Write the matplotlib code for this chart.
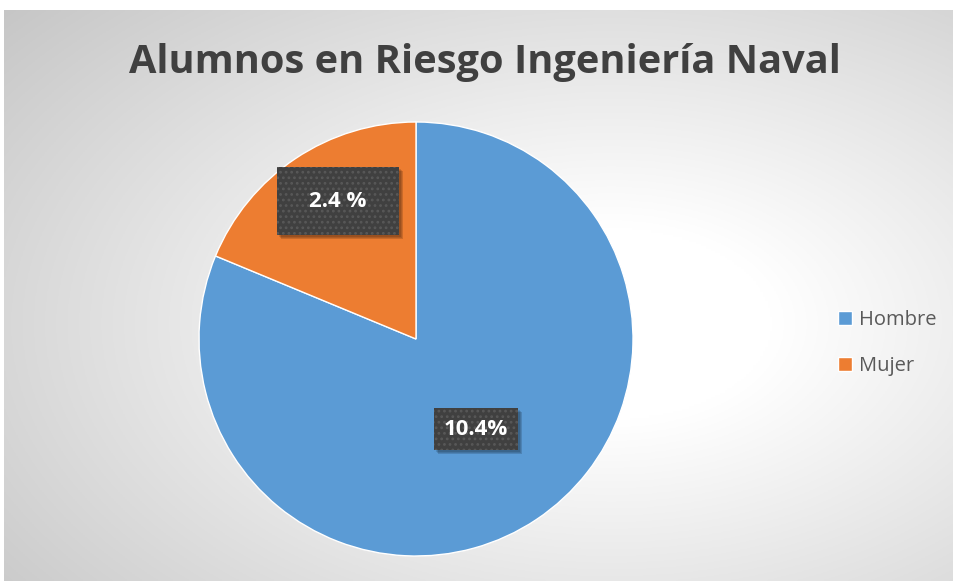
import numpy as np
import matplotlib.pyplot as plt
from matplotlib.patches import Rectangle

# data
categories = ['Hombre', 'Mujer']
values = [10.4, 2.4]
label_texts = ['10.4%', '2.4 %']
colors = ['#5B9BD5', '#ED7D31']

W, H = 954, 581
plt.rcParams['font.family'] = ['Open Sans', 'DejaVu Sans']
plt.rcParams['hatch.linewidth'] = 1.2

fig = plt.figure(figsize=(W / 100, H / 100), dpi=100)
fig.patch.set_facecolor('white')

# chart area background (radial grey gradient)
bg = fig.add_axes([4 / W, 0, 950 / W, 571 / H])
u, v = np.meshgrid(np.linspace(0, 1, 400), np.linspace(0, 1, 250))
d = np.sqrt((u - 0.64) ** 2 + (v - 0.45) ** 2)
g = 1 - 0.33 * np.clip(d - 0.17, 0, None)
g = np.clip(g, 0.76, 1)
bg.imshow(np.dstack([g, g, g]), aspect='auto', extent=(0, 1, 0, 1), origin='lower')
bg.set_axis_off()

# pie
ax = fig.add_axes([199 / W, 25 / H, 434 / W, 434 / H])
wedges, _ = ax.pie(values, colors=colors, startangle=90, counterclock=False,
                   wedgeprops=dict(edgecolor='white', linewidth=1))
ax.set_xlim(-1, 1)
ax.set_ylim(-1, 1)

# data labels in dark textured boxes
px = 1 / 217.0
label_r = [0.5, 0.73]
label_nudge = [0, -4.2]  # degrees
box_size = [(84, 42), (122, 68)]
for w, txt, r, nd, (bw, bh) in zip(wedges, label_texts, label_r, label_nudge, box_size):
    ang = np.deg2rad((w.theta1 + w.theta2) / 2 + nd)
    cx, cy = r * np.cos(ang), r * np.sin(ang)
    x0, y0 = cx - bw * px / 2, cy - bh * px / 2
    for k, a in enumerate([0.12, 0.12, 0.15]):
        off = (2 + k) * px
        ax.add_patch(Rectangle((x0 + off, y0 - off), bw * px, bh * px,
                               facecolor='black', alpha=a, linewidth=0, zorder=3))
    ax.add_patch(Rectangle((x0, y0), bw * px, bh * px, facecolor='#404040',
                           edgecolor='#585858', hatch='...', linewidth=0, zorder=4))
    ax.text(cx, cy, txt, ha='center', va='center', color='white',
            fontsize=16, fontweight='bold', zorder=5)

fig.text(485 / W, 1 - 62 / H, 'Alumnos en Riesgo Ingeniería Naval',
         ha='center', va='center', fontsize=28.6, fontweight='bold', color='#404040')

fig.legend(wedges, categories, loc='center left', bbox_to_anchor=(828 / W, 1 - 343 / H),
           frameon=False, fontsize=14.5, labelcolor='#595959', handlelength=0.7,
           handleheight=0.7, handletextpad=0.35, labelspacing=1.3, borderpad=0)

fig.savefig('out.png', dpi=100)
